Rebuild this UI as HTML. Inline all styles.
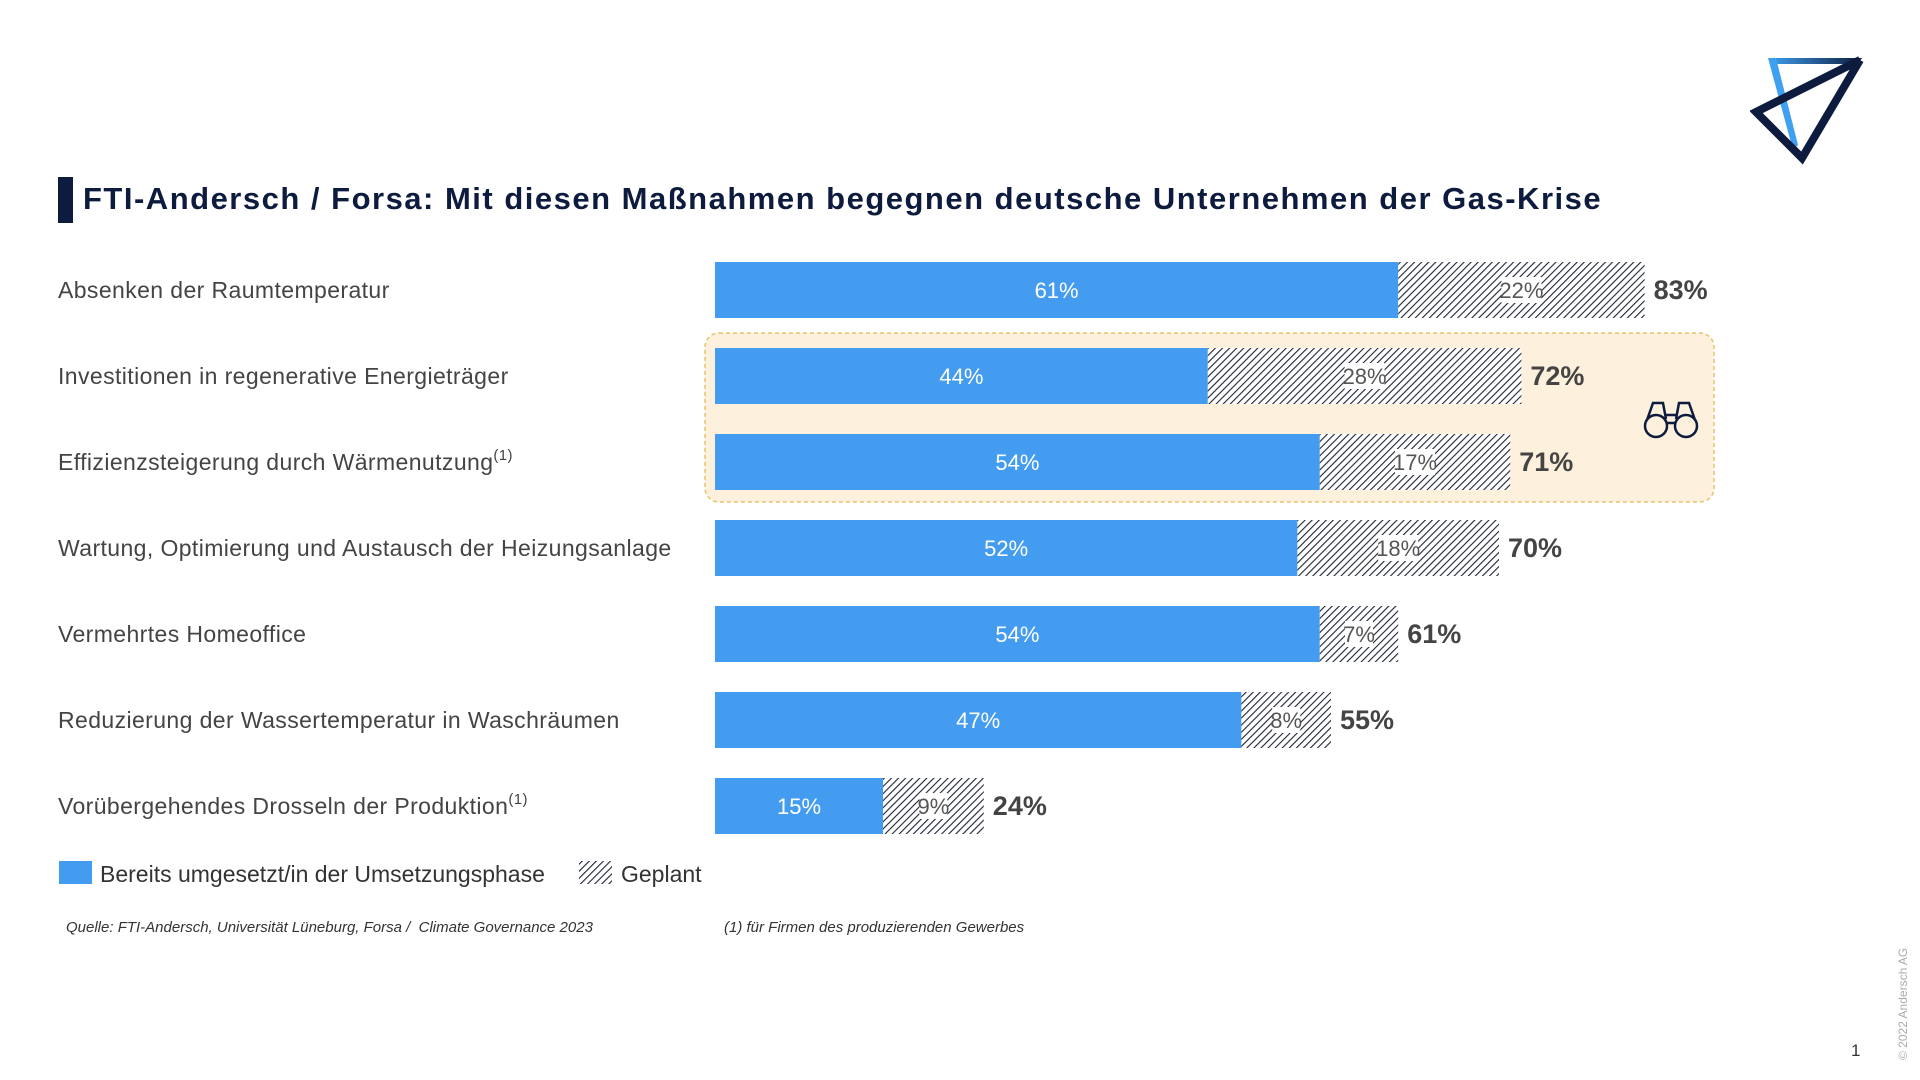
<!DOCTYPE html>
<html><head><meta charset="utf-8"><style>
body{margin:0;width:1920px;height:1080px;background:#fff;overflow:hidden;font-family:"Liberation Sans",sans-serif;position:relative}
.abs{position:absolute}
</style></head><body>
<div class="abs" style="left:58px;top:177px;width:15px;height:46px;background:#0d1b3e"></div>
<div class="abs" style="left:83px;top:181px;font-size:31px;font-weight:bold;color:#0d1b3e;white-space:nowrap;letter-spacing:1.5px">FTI-Andersch / Forsa: Mit diesen Maßnahmen begegnen deutsche Unternehmen der Gas-Krise</div>
<svg class="abs" style="left:1750px;top:50px" width="120" height="115" viewBox="0 0 120 115">
<defs><linearGradient id="lg" x1="0" x2="1"><stop offset="0" stop-color="#3fa0f0"/><stop offset="1" stop-color="#0d1b3e"/></linearGradient></defs>
<polygon points="18,8 112,8 108,14 24,14" fill="url(#lg)"/>
<polygon points="18,8 26,8 48,95 43,100" fill="#3fa0f0"/>
<polyline points="110,10 6,62 52,108 110,10" fill="none" stroke="#0d1b3e" stroke-width="8" stroke-linejoin="miter"/>
</svg>
<svg class="abs" id="chart" style="left:0;top:0" width="1920" height="1080"></svg>
<div class="abs" style="left:66px;top:919px;font-size:15px;font-style:italic;color:#333">Quelle: FTI-Andersch, Universität Lüneburg, Forsa /&nbsp; Climate Governance 2023</div>
<div class="abs" style="left:724px;top:919px;font-size:15px;font-style:italic;color:#333">(1) für Firmen des produzierenden Gewerbes</div>
<div class="abs" style="left:1896px;top:1060px;font-size:12px;color:#aaa;transform:rotate(-90deg);transform-origin:0 0;white-space:nowrap">© 2022 Andersch AG</div>
<div class="abs" style="left:1851px;top:1041px;font-size:17px;color:#333">1</div>
<script>
const categories=["Absenken der Raumtemperatur","Investitionen in regenerative Energieträger","Effizienzsteigerung durch Wärmenutzung","Wartung, Optimierung und Austausch der Heizungsanlage","Vermehrtes Homeoffice","Reduzierung der Wassertemperatur in Waschräumen","Vorübergehendes Drosseln der Produktion"];
const footnoted=[false,false,true,false,false,false,true];
const implemented=[61,44,54,52,54,47,15];
const planned=[22,28,17,18,7,8,9];
const NS="http://www.w3.org/2000/svg";
const svg=document.getElementById('chart');
const x0=715,pxPer=11.2,y0=290,rowStep=86,barH=56;
const xScale=v=>x0+v*pxPer;
const yScale=i=>y0+i*rowStep;
function mk(tag,attrs,parent){const e=document.createElementNS(NS,tag);for(const k in attrs)e.setAttribute(k,attrs[k]);(parent||svg).appendChild(e);return e;}
const defs=mk('defs',{});
const pat=mk('pattern',{id:'hatch',patternUnits:'userSpaceOnUse',width:5,height:5,patternTransform:'rotate(45)'},defs);
mk('rect',{width:5,height:5,fill:'#fff'},pat);
mk('line',{x1:0,y1:0,x2:0,y2:5,stroke:'#1e2333','stroke-width':2.2},pat);
const hb=mk('rect',{x:705,y:333,width:1009,height:169,rx:14,fill:'#fdf0dc',stroke:'#e8c36a','stroke-width':1.5,'stroke-dasharray':'4,3'});


const bin=mk('g',{transform:'translate(1671,419)',fill:'none',stroke:'#0d1b3e','stroke-width':2.5});


mk('circle',{cx:-15,cy:7,r:11},bin);mk('circle',{cx:15,cy:7,r:11},bin);
mk('path',{d:'M-24,1 L-18,-16 L-8,-16 L-5,0 M24,1 L18,-16 L8,-16 L5,0 M-5,-4 H5 M-5,4 H5'},bin);
categories.forEach((c,i)=>{
  const cy=yScale(i);
  const t=mk('text',{x:58,y:cy+8,'font-size':23,fill:'#444','letter-spacing':0.4});
  t.textContent=c;
  if(footnoted[i]){const s=mk('tspan',{'font-size':15,dy:-10},t);s.textContent='(1)';}
  
  
  const b=mk('rect',{x:xScale(0),y:cy-barH/2,width:implemented[i]*pxPer,height:barH,fill:'#439cef'});
  
  
  const tv=mk('text',{x:(xScale(0)+xScale(implemented[i]))/2,y:cy+8,'font-size':22,fill:'#fff','text-anchor':'middle'});
  tv.textContent=implemented[i]+'%';
  
  
  const px=xScale(implemented[i]),pw=planned[i]*pxPer;
  const p=mk('rect',{x:px,y:cy-barH/2,width:pw,height:barH,fill:'url(#hatch)'});
  
  
  const lab=planned[i]+'%';const lw=lab.length*12+4;
  mk('rect',{x:px+pw/2-lw/2,y:cy-13,width:lw,height:26,fill:'#fff'});
  const tp=mk('text',{x:px+pw/2,y:cy+8,'font-size':22,fill:'#555','text-anchor':'middle'});
  tp.textContent=lab;
  
  
  const tt=mk('text',{x:xScale(implemented[i]+planned[i])+9,y:cy+9,'font-size':27,'font-weight':'bold',fill:'#444'});
  tt.textContent=(implemented[i]+planned[i])+'%';
  
  
});
const l1=mk('rect',{x:59,y:861,width:33,height:23,fill:'#439cef'});


const lt1=mk('text',{x:100,y:882,'font-size':23,fill:'#333'});lt1.textContent='Bereits umgesetzt/in der Umsetzungsphase';


const l2=mk('rect',{x:579,y:861,width:33,height:23,fill:'url(#hatch)'});


const lt2=mk('text',{x:621,y:882,'font-size':23,fill:'#333'});lt2.textContent='Geplant';


</script>
</body></html>
